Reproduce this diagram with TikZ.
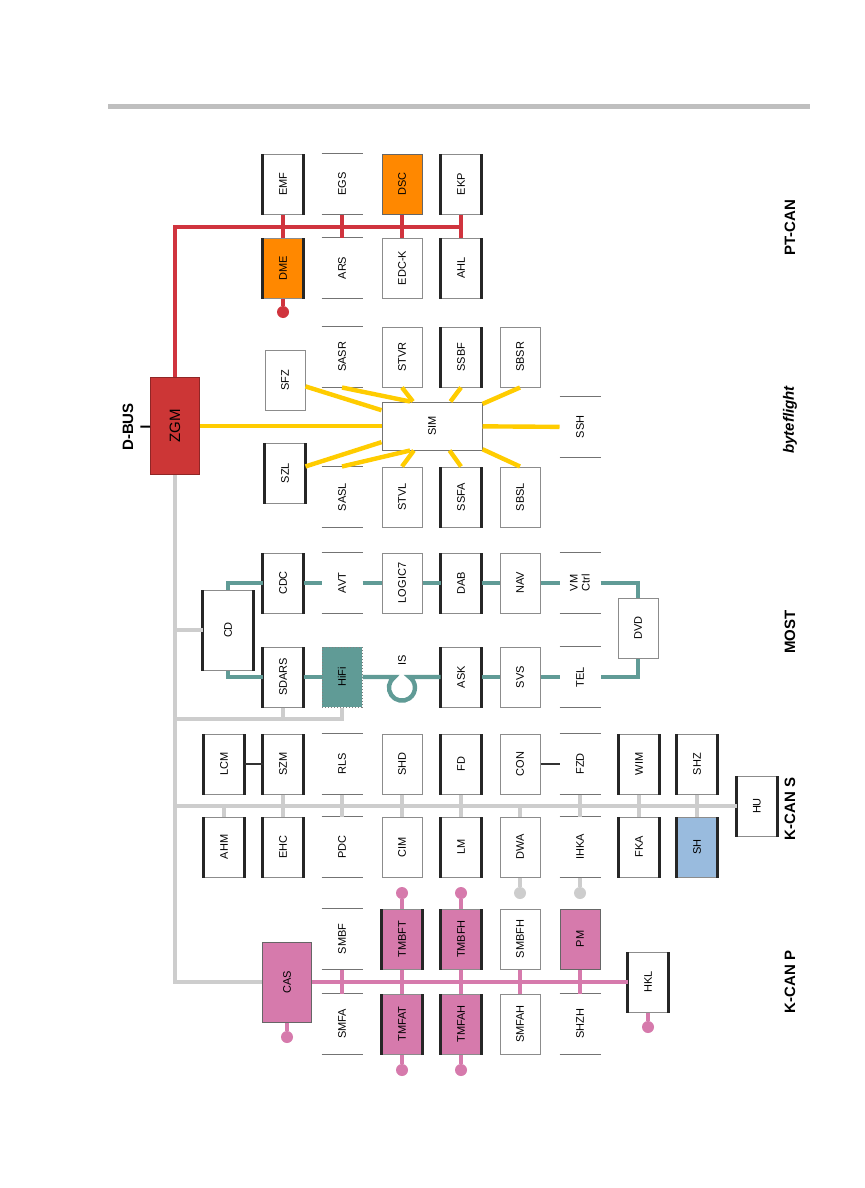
\documentclass[tikz,border=0pt]{standalone}
\usepackage{fontspec}
\setmainfont{Liberation Sans}
\usepackage{xcolor}
\definecolor{zgmred}{RGB}{204,54,54}
\definecolor{ptred}{RGB}{208,52,62}
\definecolor{ptorange}{RGB}{255,136,0}
\definecolor{bfyellow}{RGB}{255,204,0}
\definecolor{mostteal}{RGB}{96,155,150}
\definecolor{ksgray}{RGB}{205,205,205}
\definecolor{kppink}{RGB}{214,122,172}
\definecolor{ksblue}{RGB}{153,187,222}
\usepackage{tikz}
\usetikzlibrary{positioning}

\begin{document}
\begin{tikzpicture}[x=0.5pt, y=-0.5pt,
  ecu/.style={rectangle, draw=black!45, line width=0.5pt, fill=white, rotate=90,
    minimum width=30pt, minimum height=20pt, inner sep=1pt, align=center,
    font=\fontsize{5.5}{6}\selectfont},
  ecublk/.style={ecu, append after command={\pgfextra{\let\ecunode\tikzlastnode}
    (\ecunode.north west) edge[sidebar] (\ecunode.north east)
    (\ecunode.south west) edge[sidebar] (\ecunode.south east)}},
  ecuopen/.style={ecu, draw=none, append after command={\pgfextra{\let\ecunode\tikzlastnode}
    (\ecunode.north east) edge[openbar] (\ecunode.south east)
    (\ecunode.north west) edge[openbar] (\ecunode.south west)}},
  sidebar/.style={draw=black!85, line width=1.5pt},
  openbar/.style={draw=black!55, line width=0.8pt},
  busname/.style={rotate=90, font=\fontsize{7.5}{8}\selectfont\bfseries},
  ptbus/.style={draw=ptred, line width=2.2pt},
  bfbus/.style={draw=bfyellow, line width=2.2pt},
  mostbus/.style={draw=mostteal, line width=2.2pt},
  ksbus/.style={draw=ksgray, line width=2.4pt},
  kpbus/.style={draw=kppink, line width=2.4pt},
  pin/.style={circle, inner sep=0pt, minimum size=6pt},
  sublink/.style={draw=black!80, line width=0.6pt}
]
\path[fill=white, use as bounding box] (0,0) rectangle (864,1188);
\draw[draw=black!25, line width=2.5pt] (108,107) -- (810,107);

\node[ecu, fill=zgmred, draw=zgmred!70!black, minimum width=48.5pt, minimum height=24.5pt,
  font=\fontsize{7.5}{8}\selectfont] (zgm) at (175,426) {ZGM};
\node[busname] (dbus) at (128,427) {D-BUS};

\node[ecublk] (emf) at (283,184) {EMF};
\node[ecublk, fill=ptorange] (dme) at (283,268) {DME};
\node[ecuopen] (egs) at (342,184) {EGS};
\node[ecuopen] (ars) at (342,268) {ARS};
\node[ecu, fill=ptorange, draw=black!60] (dsc) at (402,184) {DSC};
\node[ecu] (edck) at (402,268) {EDC-K};
\node[ecublk] (ekp) at (461,184) {EKP};
\node[ecublk] (ahl) at (461,268) {AHL};
\node[pin, fill=ptred] (dmepin) at (283,312) {};
\coordinate (ptend) at (461,227);

\node[ecu, draw=black!55, minimum width=24pt, minimum height=50pt] (sim) at (432,426) {SIM};
\node[ecu] (sfz) at (285,380) {SFZ};
\node[ecublk] (szl) at (285,473) {SZL};
\node[ecuopen] (sasr) at (342,357) {SASR};
\node[ecuopen] (sasl) at (342,497) {SASL};
\node[ecu] (stvr) at (402,357) {STVR};
\node[ecu] (stvl) at (402,497) {STVL};
\node[ecublk] (ssbf) at (461,357) {SSBF};
\node[ecublk] (ssfa) at (461,497) {SSFA};
\node[ecu] (sbsr) at (520,357) {SBSR};
\node[ecu] (sbsl) at (520,497) {SBSL};
\node[ecuopen] (ssh) at (580,427) {SSH};

\node[ecublk, minimum width=40pt, minimum height=25pt] (cd) at (228,630) {CD};
\node[ecublk] (cdc) at (283,583) {CDC};
\node[ecuopen] (avt) at (342,583) {AVT};
\node[ecu] (logic) at (402,583) {LOGIC7};
\node[ecublk] (dab) at (461,583) {DAB};
\node[ecu] (nav) at (520,583) {NAV};
\node[ecuopen] (vm) at (580,583) {VM\\Ctrl};
\node[ecu] (dvd) at (638,628) {DVD};
\node[ecublk] (sdars) at (283,677) {SDARS};
\node[ecu, fill=mostteal, draw=black!50, densely dotted] (hifi) at (342,677) {HiFi};
\node[ecublk] (ask) at (461,677) {ASK};
\node[ecu] (svs) at (520,677) {SVS};
\node[ecuopen] (tel) at (580,677) {TEL};
\node[rotate=90, font=\fontsize{5.5}{6}\selectfont] (islbl) at (402,660) {IS};
\coordinate (lpa) at (394.5,677);
\coordinate (mostjn) at (175,719);

\node[ecublk] (lcm) at (224,764) {LCM};
\node[ecublk] (ahm) at (224,847) {AHM};
\node[ecublk] (szm) at (283,764) {SZM};
\node[ecublk] (ehc) at (283,847) {EHC};
\node[ecuopen] (rls) at (342,764) {RLS};
\node[ecuopen] (pdc) at (342,847) {PDC};
\node[ecu] (shd) at (402,764) {SHD};
\node[ecu] (cim) at (402,847) {CIM};
\node[ecublk] (fd) at (461,764) {FD};
\node[ecublk] (lm) at (461,847) {LM};
\node[ecu] (con) at (520,764) {CON};
\node[ecu] (dwa) at (520,847) {DWA};
\node[ecuopen] (fzd) at (580,764) {FZD};
\node[ecuopen] (ihka) at (580,847) {IHKA};
\node[ecublk] (wim) at (639,764) {WIM};
\node[ecublk] (fka) at (639,847) {FKA};
\node[ecublk] (shz) at (697,764) {SHZ};
\node[ecublk, fill=ksblue] (sh) at (697,847) {SH};
\node[ecublk] (hu) at (757,806) {HU};
\node[pin, fill=ksgray] (dwapin) at (520,893) {};
\node[pin, fill=ksgray] (ihkapin) at (580,893) {};

\node[ecu, fill=kppink, draw=black!60, minimum width=40pt, minimum height=24.5pt] (cas) at (287,982) {CAS};
\node[ecuopen] (smbf) at (342,939) {SMBF};
\node[ecuopen] (smfa) at (342,1024) {SMFA};
\node[ecublk, fill=kppink] (tmbft) at (402,939) {TMBFT};
\node[ecublk, fill=kppink] (tmfat) at (402,1024) {TMFAT};
\node[ecublk, fill=kppink] (tmbfh) at (461,939) {TMBFH};
\node[ecublk, fill=kppink] (tmfah) at (461,1024) {TMFAH};
\node[ecu] (smbfh) at (520,939) {SMBFH};
\node[ecu] (smfah) at (520,1024) {SMFAH};
\node[ecu, fill=kppink, draw=black!60] (pm) at (580,939) {PM};
\node[ecuopen] (shzh) at (580,1024) {SHZH};
\node[ecublk] (hkl) at (648,982) {HKL};
\node[pin, fill=kppink] (caspin) at (287,1037) {};
\node[pin, fill=kppink] (hklpin) at (648,1027) {};
\node[pin, fill=kppink] (tmbftpin) at (402,893) {};
\node[pin, fill=kppink] (tmbfhpin) at (461,893) {};
\node[pin, fill=kppink] (tmfatpin) at (402,1070) {};
\node[pin, fill=kppink] (tmfahpin) at (461,1070) {};
\coordinate (ksturn) at (175,982);

\node[busname] (ptlbl) at (790,228) {PT-CAN};
\node[busname, font=\fontsize{7.5}{8}\selectfont\bfseries\itshape] (bflbl) at (790,420) {byteflight};
\node[busname] (mostlbl) at (790,632) {MOST};
\node[busname] (kslbl) at (790,809) {K-CAN S};
\node[busname] (kplbl) at (790,982) {K-CAN P};

\draw[line width=1pt] (dbus) -- (zgm);
\draw[ksbus] (zgm) -- (ksturn) -- (cas);
\draw[ksbus] (cd) -| (zgm); \draw[ksbus] (hu) -| (zgm);
\draw[ksbus] (hifi) |- (mostjn); \draw[ksbus] (sdars) -- (sdars |- mostjn);

\draw[ptbus] (zgm) |- (ptend);
\draw[ptbus] (emf) -- (dme); \draw[ptbus] (egs) -- (ars);
\draw[ptbus] (dsc) -- (edck); \draw[ptbus] (ekp) -- (ahl);
\draw[ptbus] (dme) -- (dmepin);

\draw[bfbus] (zgm) -- (sim);
\draw[bfbus] (sim) -- (sfz); \draw[bfbus] (sim) -- (szl);
\draw[bfbus] ([xshift=-11pt]sim.east) -- (sasr.west); \draw[bfbus] ([xshift=-11pt]sim.west) -- (sasl.east);
\draw[bfbus] (sim) -- (stvr.west); \draw[bfbus] (sim) -- (stvl.east);
\draw[bfbus] (sim) -- (ssbf.west); \draw[bfbus] (sim) -- (ssfa.east);
\draw[bfbus] (sim) -- (sbsr.west); \draw[bfbus] (sim) -- (sbsl.east);
\draw[bfbus] (sim) -- (ssh);

\draw[mostbus] (cd) |- (cdc); \draw[mostbus] (cdc) -- (avt);
\draw[mostbus] (avt) -- (logic); \draw[mostbus] (logic) -- (dab);
\draw[mostbus] (dab) -- (nav); \draw[mostbus] (nav) -- (vm);
\draw[mostbus] (vm) -| (dvd); \draw[mostbus] (dvd) |- (tel);
\draw[mostbus] (tel) -- (svs); \draw[mostbus] (svs) -- (ask);
\draw[mostbus] (hifi) -- (lpa) arc[start angle=235, end angle=-55, radius=13] -- (ask);
\draw[mostbus] (cd) |- (sdars); \draw[mostbus] (sdars) -- (hifi);

\draw[ksbus] (ahm) -- (ahm |- hu); \draw[ksbus] (szm) -- (ehc);
\draw[ksbus] (rls) -- (pdc); \draw[ksbus] (shd) -- (cim);
\draw[ksbus] (fd) -- (lm); \draw[ksbus] (dwa) -- (dwa |- hu);
\draw[ksbus] (fzd) -- (ihka); \draw[ksbus] (wim) -- (fka);
\draw[ksbus] (shz) -- (sh);
\draw[ksbus] (dwa) -- (dwapin); \draw[ksbus] (ihka) -- (ihkapin);
\draw[sublink] (lcm) -- (szm); \draw[sublink] (con) -- (fzd);

\draw[kpbus] (cas) -- (hkl);
\draw[kpbus] (smbf) -- (smfa); \draw[kpbus] (tmbft) -- (tmfat);
\draw[kpbus] (tmbfh) -- (tmfah); \draw[kpbus] (smbfh) -- (smfah);
\draw[kpbus] (pm) -- (shzh);
\draw[kpbus] (cas) -- (caspin); \draw[kpbus] (hkl) -- (hklpin);
\draw[kpbus] (tmbft) -- (tmbftpin); \draw[kpbus] (tmbfh) -- (tmbfhpin);
\draw[kpbus] (tmfat) -- (tmfatpin); \draw[kpbus] (tmfah) -- (tmfahpin);
\end{tikzpicture}
\end{document}
